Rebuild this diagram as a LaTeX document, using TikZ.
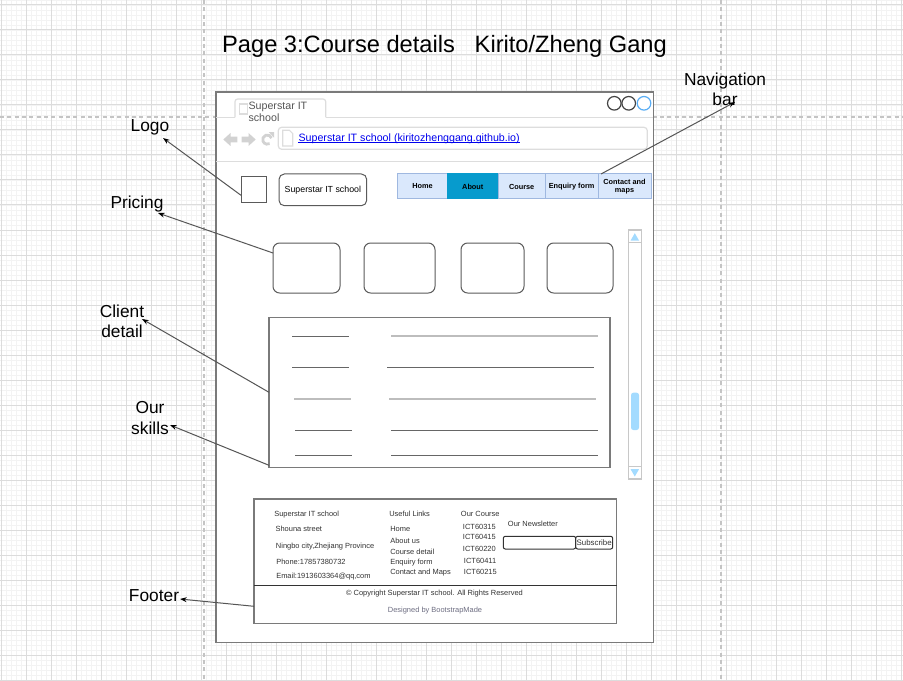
\documentclass[tikz,border=0pt]{standalone}
\usepackage{fontspec}
\setmainfont{Liberation Sans}
\usetikzlibrary{arrows.meta,calc}

\definecolor{gridminor}{HTML}{F3F3F3}
\definecolor{gridmajor}{HTML}{DCDCDC}
\definecolor{pagebreak}{HTML}{C4C4C4}
\definecolor{winborder}{HTML}{7A7A7A}
\definecolor{lightline}{HTML}{DDDDDD}
\definecolor{navicon}{HTML}{D2D2D2}
\definecolor{linkblue}{HTML}{0000EE}
\definecolor{tabtext}{HTML}{555555}
\definecolor{circdark}{HTML}{444444}
\definecolor{circblue}{HTML}{5AAEF5}
\definecolor{boxline}{HTML}{5A5A5A}
\definecolor{navfill}{HTML}{DAE8FC}
\definecolor{navborder}{HTML}{9FB8E0}
\definecolor{navactive}{HTML}{079BCD}
\definecolor{scrollline}{HTML}{C8C8C8}
\definecolor{scrollblue}{HTML}{A3DBFF}
\definecolor{rowdark}{HTML}{666666}
\definecolor{rowlight}{HTML}{BDBDBD}
\definecolor{ftext}{HTML}{333333}
\definecolor{fgray}{HTML}{6E6E82}
\definecolor{annline}{HTML}{555555}

\tikzset{
  wh/.style 2 args={minimum width=#1*0.75pt, minimum height=#2*0.75pt},
  blk/.style={inner sep=0pt, outer sep=0pt},
  ann/.style={draw=annline, line width=0.75pt, -{Stealth[length=5pt,width=3.6pt,black]}},
  annlbl/.style={font=\fontsize{13pt}{15.2pt}\selectfont, align=center, inner sep=0pt},
  ftxt/.style={font=\fontsize{5.6pt}{6.5pt}\selectfont, text=ftext, anchor=west, inner sep=0pt},
  navcell/.style={blk, draw=navborder, fill=navfill, line width=0.75pt,
    font=\bfseries\fontsize{5.5pt}{6pt}\selectfont, align=center, anchor=north west},
  pricebox/.style={blk, draw=boxline, line width=0.75pt, rounded corners=5pt, anchor=north west},
  rowd/.style={draw=rowdark, line width=0.75pt},
  rowl/.style={draw=rowlight, line width=1.3pt},
}

\begin{document}
\begin{tikzpicture}[x=0.75pt,y=-0.75pt]
\useasboundingbox (0,0) rectangle (903,681);
\fill[white] (0,0) rectangle (903,681);

% background grid
\foreach \i in {0,...,180} \draw[gridminor, line width=0.6pt] ({1.7+5*\i},0) -- ({1.7+5*\i},681);
\foreach \i in {0,...,136} \draw[gridminor, line width=0.6pt] (0,{5*\i}) -- (903,{5*\i});
\foreach \i in {0,...,36} \draw[gridmajor, line width=0.75pt] ({1.7+25*\i},0) -- ({1.7+25*\i},681);
\foreach \i in {0,...,27} \draw[gridmajor, line width=0.75pt] (0,{5+25*\i}) -- (903,{5+25*\i});
% page breaks
\draw[pagebreak, line width=0.9pt, dash pattern=on 3pt off 2.5pt] (204,0) -- (204,681);
\draw[pagebreak, line width=0.9pt, dash pattern=on 3pt off 2.5pt] (721,0) -- (721,681);
\draw[pagebreak, line width=0.9pt, dash pattern=on 3pt off 2.5pt] (0,117) -- (903,117);

% title
\node[inner sep=0pt, font=\fontsize{17.75pt}{20pt}\selectfont] (title) at (444.5,46)
  {Page 3:Course details\ \ \ Kirito/Zheng Gang};

% browser window
\node[blk, draw=winborder, fill=white, line width=1.2pt, anchor=north west, wh={437.3}{550}]
  (win) at (216,92.3) {};

% tab strip
\draw[lightline, line width=0.9pt, rounded corners=2pt] (235,117.3) -- (235,99) -- (325.7,99) -- (325.7,117.3);
\draw[lightline, line width=0.9pt] (216,117.3) -- (235,117.3) (325.7,117.3) -- (653.3,117.3);
\node[blk, draw=lightline, line width=0.9pt, anchor=north west, wh={8.4}{10}] (tabicon) at (239.3,104) {};
\node[inner sep=0pt, anchor=north west, align=left, text=tabtext,
  font=\fontsize{8pt}{9.4pt}\selectfont] (tabtitle) at (248.3,101.5) {Superstar IT\\school};

% window controls
\draw[circdark, line width=0.9pt] (614.3,103.3) circle (6.8);
\draw[circdark, line width=0.9pt] (628.7,103.3) circle (6.8);
\draw[circblue, line width=0.9pt] (644,103.3) circle (6.8);

% navigation buttons
\fill[navicon] (223.3,139.5) -- (230.5,133) -- (230.5,136.6) -- (237.3,136.6) -- (237.3,142.4)
  -- (230.5,142.4) -- (230.5,146) -- cycle;
\fill[navicon] (255.7,139.5) -- (248.5,133) -- (248.5,136.6) -- (241.7,136.6) -- (241.7,142.4)
  -- (248.5,142.4) -- (248.5,146) -- cycle;
\draw[navicon, line width=2.1pt] (267.3,139.6) ++(-20:4.6) arc (-20:-300:4.6);
\fill[navicon] (268.8,132.2) -- (274,132.2) -- (274,137.6) -- cycle;

% address bar
\node[blk, draw=lightline, line width=0.9pt, rounded corners=2.5pt, anchor=north west, wh={369}{22}]
  (addr) at (278.3,127.3) {};
\draw[lightline, line width=0.9pt] (282.7,130.3) -- (289.4,130.3) -- (292.7,133.6) -- (292.7,146)
  -- (282.7,146) -- cycle;
\node[inner sep=0pt, anchor=west, text=linkblue, font=\fontsize{8pt}{9pt}\selectfont] (url)
  at (298.3,138.3) {Superstar IT school (kiritozhenggang.github.io)};
\draw[linkblue, line width=0.6pt] ($(url.base west)+(0,1.6)$) -- ($(url.base east)+(0,1.6)$);
\draw[lightline, line width=0.9pt] (216,161.3) -- (653.3,161.3);

% header row
\node[blk, draw=boxline, line width=0.75pt, anchor=north west, wh={25.7}{25.6}] (logobox) at (241,176.7) {};
\node[blk, draw=boxline, line width=0.75pt, rounded corners=4pt, anchor=north west, wh={87.7}{31.7},
  font=\fontsize{6.6pt}{7pt}\selectfont] (brand) at (279,174) {Superstar IT school};

\node[navcell, wh={50.3}{25}] (nhome) at (397.3,174) {Home};
\node[navcell, wh={50.4}{25}, fill=navactive, draw=navactive] (nabout) at (nhome.north east) {About};
\node[navcell, wh={47.3}{25}] (ncourse) at (nabout.north east) {Course};
\node[navcell, wh={52.7}{25}] (nenq) at (ncourse.north east) {Enquiry form};
\node[navcell, wh={53}{25}] (ncontact) at (nenq.north east) {Contact and\\[-0.5pt]maps};

% pricing cards
\node[pricebox, wh={67}{50}] (p1) at (273,243) {};
\node[pricebox, wh={71}{50}] (p2) at (364,243) {};
\node[pricebox, wh={63}{50}] (p3) at (461,243) {};
\node[pricebox, wh={66}{50}] (p4) at (547,243) {};

% scrollbar
\node[blk, draw=scrollline, line width=0.9pt, anchor=north west, wh={13}{249}] (scroll) at (628.3,230) {};
\draw[scrollline, line width=0.9pt] (628.3,242.7) -- (641.3,242.7) (628.3,466.7) -- (641.3,466.7);
\fill[scrollblue] (634.8,233.2) -- (639,240.5) -- (630.6,240.5) -- cycle;
\fill[scrollblue] (634.8,476.5) -- (639,469.2) -- (630.6,469.2) -- cycle;
\fill[scrollblue, rounded corners=1.8pt] (631,392.7) rectangle (639,430);

% client detail panel
\node[blk, draw=winborder, line width=1.1pt, anchor=north west, wh={341}{150}] (client) at (269,317.3) {};
\draw[rowd] (292,336) -- (349,336);   \draw[rowl] (391,336) -- (598,336);
\draw[rowd] (292,367.3) -- (349,367.3); \draw[rowd] (387,367.3) -- (594,367.3);
\draw[rowl] (294,399) -- (351,399);   \draw[rowl] (389,399) -- (596,399);
\draw[rowd] (295,430) -- (352,430);   \draw[rowd] (391,430) -- (598,430);
\draw[rowd] (295,455.3) -- (352,455.3); \draw[rowd] (391,455.3) -- (598,455.3);

% footer
\node[blk, draw=winborder, line width=1.1pt, anchor=north west, wh={362.7}{124.3}] (footer) at (254,499) {};
\draw[draw=ftext, line width=1pt] (254,585.7) -- (616.7,585.7);

\node[ftxt] (f1) at (274,514.3) {Superstar IT school};
\node[ftxt] (f2) at (275.3,529.3) {Shouna street};
\node[ftxt] (f3) at (275.7,546.7) {Ningbo city,Zhejiang Province};
\node[ftxt] (f4) at (276,562.3) {Phone:17857380732};
\node[ftxt] (f5) at (276,577) {Email:1913603364@qq,com};

\node[ftxt] (l1) at (389,514.3) {Useful Links};
\node[ftxt] (l2) at (390,529.3) {Home};
\node[ftxt] (l3) at (390,541) {About us};
\node[ftxt] (l4) at (390,551.7) {Course detail};
\node[ftxt] (l5) at (390,562.3) {Enquiry form};
\node[ftxt] (l6) at (390,572.3) {Contact and Maps};

\node[ftxt] (c1) at (460.7,514.3) {Our Course};
\node[ftxt] (c2) at (462.7,527.3) {ICT60315};
\node[ftxt] (c3) at (462.7,537.3) {ICT60415};
\node[ftxt] (c4) at (462.7,549) {ICT60220};
\node[ftxt] (c5) at (463.7,561) {ICT60411};
\node[ftxt] (c6) at (463.7,572.3) {ICT60215};

\node[ftxt] (nl) at (507.7,524.3) {Our Newsletter};
\node[blk, draw=ftext, line width=0.75pt, rounded corners=1.5pt, anchor=north west, wh={72.4}{12.7}]
  (email) at (503.3,536.3) {};
\node[blk, draw=ftext, line width=0.75pt, rounded corners=1.5pt, anchor=north west, wh={37}{12.7},
  font=\fontsize{5.9pt}{6.5pt}\selectfont, text=ftext] (subscribe) at (575.7,536.3) {Subscribe};

\node[inner sep=0pt, font=\fontsize{5.6pt}{6.5pt}\selectfont, text=ftext] (copy) at (434.5,593.3)
  {© Copyright Superstar IT school. All Rights Reserved};
\node[inner sep=0pt, font=\fontsize{5.6pt}{6.5pt}\selectfont, text=fgray] (credit) at (435,610.7)
  {Designed by BootstrapMade};

% annotation labels
\node[annlbl] (lblLogo) at (150,127) {Logo};
\node[annlbl] (lblPricing) at (137,204) {Pricing};
\node[annlbl] (lblClient) at (122,321) {Client\\detail};
\node[annlbl] (lblSkills) at (150,418) {Our\\skills};
\node[annlbl] (lblFooter) at (154,596) {Footer};
\node[annlbl] (lblNav) at (725,89) {Navigation\\bar};

% connector end points
\coordinate (tipLogo) at ($(lblLogo)+(13,11)$);
\coordinate (tipPricing) at ($(lblPricing)+(21,9)$);
\coordinate (tipClient) at ($(lblClient)+(20,-2)$);
\coordinate (tipSkills) at ($(lblSkills)+(20,7)$);
\coordinate (tipFooter) at ($(lblFooter)+(26,3)$);
\coordinate (tipNav) at ($(lblNav)+(10,13)$);
\coordinate (srcLogo) at ($(logobox.south west)+(0,-7)$);
\coordinate (srcPricing) at ($(p1.north west)+(0,10)$);
\coordinate (srcSkills) at ($(client.south west)+(0,-2)$);
\coordinate (srcFooter) at ($(footer.south west)+(0,-17)$);
\coordinate (srcNav) at ($(ncontact.north west)+(3,0)$);

% annotation connectors
\draw[ann] (srcLogo) -- (tipLogo);
\draw[ann] (srcPricing) -- (tipPricing);
\draw[ann] (client.west) -- (tipClient);
\draw[ann] (srcSkills) -- (tipSkills);
\draw[ann] (srcFooter) -- (tipFooter);
\draw[ann] (srcNav) -- (tipNav);
\end{tikzpicture}
\end{document}
